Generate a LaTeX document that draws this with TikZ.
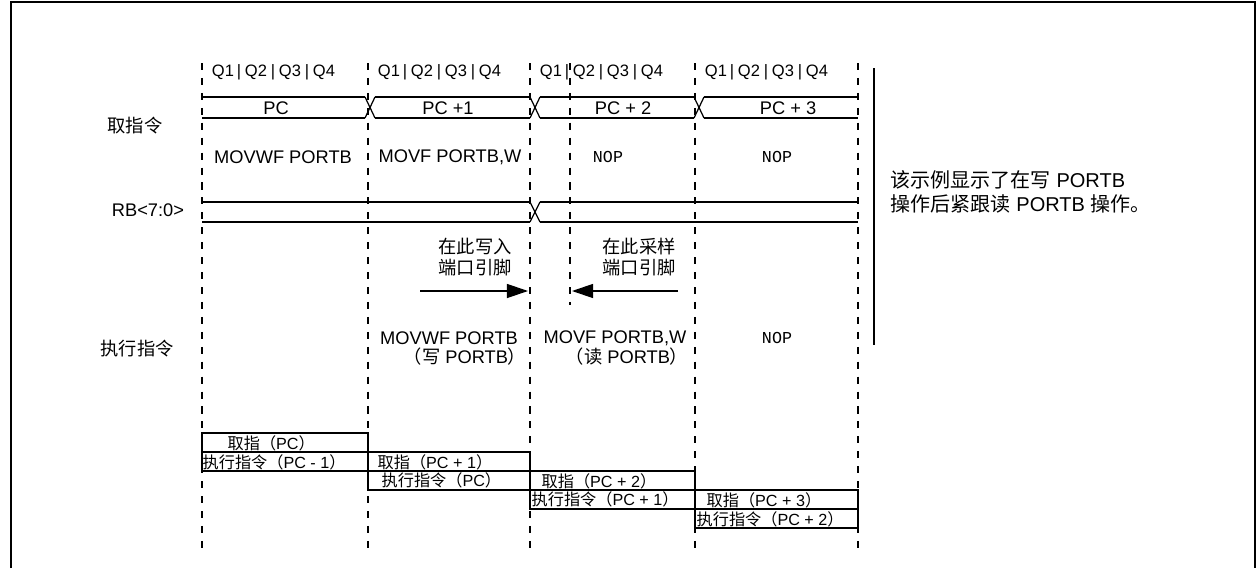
\documentclass[tikz,border=0pt]{standalone}
\usepackage{fontspec}
\setmainfont{Liberation Sans}
\setmonofont{Liberation Mono}
\newfontfamily\cjk{Noto Sans CJK SC}
\newcommand{\zh}[1]{{\cjk #1}}
\usetikzlibrary{arrows.meta}

\begin{document}
\begin{tikzpicture}[x=0.02cm,y=-0.02cm,line width=0.8pt,
  font=\fontsize{10.4}{12}\selectfont,
  lbl/.style={inner sep=0pt},
  qlbl/.style={inner sep=0pt,font=\fontsize{9.4}{11}\selectfont},
  nop/.style={inner sep=0pt,font=\fontsize{9.5}{11}\ttfamily},
  small/.style={inner sep=0pt,anchor=west,font=\fontsize{9.2}{10}\selectfont},
  tick/.style={line width=1pt,dash pattern=on 4pt off 4.5pt},
  bus/.style={line width=0.7pt},
  slot/.style={line width=1.1pt},
  pin/.style={line width=0.7pt,-{Triangle[length=12pt,width=8pt]}}]
\useasboundingbox (0,0) rectangle (1257,568);
% ---------- frame ----------
\draw[line width=1.5pt] (11,568) -- (11,2) -- (1255,2) -- (1255,568);
% ---------- cycle marks ----------
\foreach \x in {202,368,530,695,858}
  \draw[tick] (\x,63) -- (\x,550);
\draw[tick] (570,63) -- (570,305);
\foreach \x [count=\i] in {202,368,530,695}{
  \foreach \q/\d in {1/21,2/54,3/88,4/122}
    \node[qlbl] (q\i\q) at (\x+\d,72) {Q\q};
  \foreach \d in {37,71,105}
    \node[qlbl] (s\i\d) at (\x+\d,72) {|};
}
% ---------- row labels ----------
\node[lbl] (fetch) at (135,126) {\zh{取指令}};
\node[lbl] (rb) at (148,210) {RB<7:0>};
\node[lbl] (exec) at (137,349) {\zh{执行指令}};
% ---------- PC bus ----------
\foreach \a/\b in {202/365,375/530,540/694,704/858}
  \draw[bus] (\a,97) -- (\b,97) (\a,118) -- (\b,118);
\foreach \c in {370,535,699}
  \draw[bus] (\c-5,97) -- (\c+5,118) (\c-5,118) -- (\c+5,97);
\node[lbl] (pc0) at (276,108) {PC};
\node[lbl] (pc1) at (448,108) {PC +1};
\node[lbl] (pc2) at (623,108) {PC + 2};
\node[lbl] (pc3) at (788,108) {PC + 3};
\node[lbl] (f0) at (283,157) {MOVWF PORTB};
\node[lbl] (f1) at (450,157) {MOVF PORTB,W};
\node[nop] (f2) at (608,157) {NOP};
\node[nop] (f3) at (777,157) {NOP};
% ---------- RB bus ----------
\foreach \a/\b in {202/530,540/858}
  \draw[bus] (\a,202) -- (\b,202) (\a,222) -- (\b,222);
\draw[bus] (530,202) -- (540,222) (530,222) -- (540,202);
% ---------- write / sample ----------
\node[lbl,align=center] (wr) at (475,257.5) {\zh{在此写入}\\\zh{端口引脚}};
\node[lbl,align=center] (sm) at (639,257.5) {\zh{在此采样}\\\zh{端口引脚}};
\coordinate (wr0) at (420,291);
\coordinate (wr1) at (528,291);
\coordinate (sm0) at (678,291);
\coordinate (sm1) at (572,291);
\draw[pin] (wr0) -- (wr1);
\draw[pin] (sm0) -- (sm1);
\node[lbl] (e1) at (449,338) {MOVWF PORTB};
\node[lbl] (e1b) at (465,357) {\zh{（写} PORTB\zh{）}};
\node[lbl] (e2) at (615,338) {MOVF PORTB,W};
\node[lbl] (e2b) at (627,357) {\zh{（读} PORTB\zh{）}};
\node[nop] (e3) at (777,338) {NOP};
% ---------- note ----------
\draw[line width=1.4pt] (874,68) -- (874,345);
\node[lbl,anchor=west,align=left,font=\fontsize{11.4}{13.4}\selectfont] (note) at (890,192)
  {\zh{该示例显示了在写} PORTB\\\zh{操作后紧跟读} PORTB \zh{操作。}};
% ---------- pipeline ----------
\draw[slot] (202,433) rectangle (368,452);
\draw[slot] (202,452) rectangle (368,471);
\draw[slot] (368,452) rectangle (530,471);
\draw[slot] (368,471) rectangle (530,490);
\draw[slot] (530,471) rectangle (695,490);
\draw[slot] (530,490) rectangle (695,509);
\draw[slot] (695,490) rectangle (858,509);
\draw[slot] (695,509) rectangle (858,528);
\node[small] (p0) at (227,443) {\zh{取指（}PC\zh{）}};
\node[small] (x0) at (202,462) {\zh{执行指令（}PC - 1\zh{）}};
\node[small] (p1) at (377,462) {\zh{取指（}PC + 1\zh{）}};
\node[small] (x1) at (381,480) {\zh{执行指令（}PC\zh{）}};
\node[small] (p2) at (541,481) {\zh{取指（}PC + 2\zh{）}};
\node[small] (x2) at (531,499) {\zh{执行指令（}PC + 1\zh{）}};
\node[small] (p3) at (706,500) {\zh{取指（}PC + 3\zh{）}};
\node[small] (x3) at (696,519) {\zh{执行指令（}PC + 2\zh{）}};
\end{tikzpicture}
\end{document}
